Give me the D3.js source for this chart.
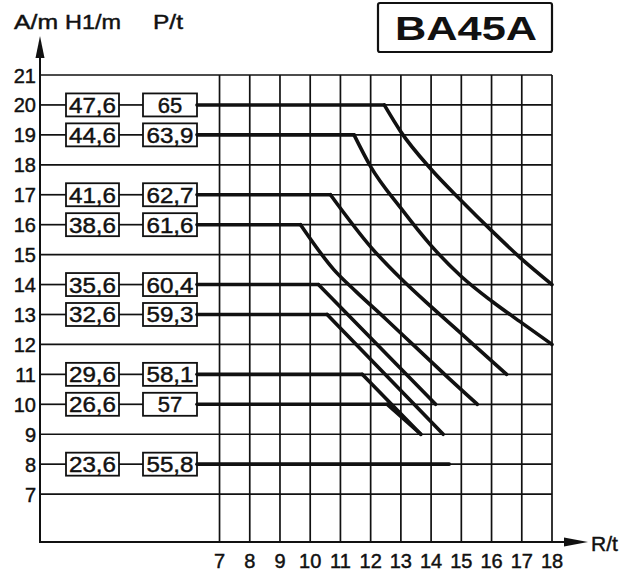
<!DOCTYPE html>
<html><head><meta charset="utf-8">
<script src="https://cdn.jsdelivr.net/npm/d3@7/dist/d3.min.js"></script>
<style>body{margin:0;background:#fff}svg{display:block}</style>
</head><body>
<svg id="c" width="629" height="576"></svg>
<script>
// ---------- data ----------
const yTicks = [7,8,9,10,11,12,13,14,15,16,17,18,19,20,21];
const xTicks = [7,8,9,10,11,12,13,14,15,16,17,18];
const rowLevels = [20,19,17,16,14,13,11,10,8];
const h1Values  = ["47,6","44,6","41,6","38,6","35,6","32,6","29,6","26,6","23,6"];
const pValues   = ["65","63,9","62,7","61,6","60,4","59,3","58,1","57","55,8"];
const bendR     = [12.45,11.45,10.67,9.68,10.27,10.56,11.72,12.55,14.6];
const curve20 = [[12.45,20],[13,19.1],[14,17.85],[15,16.8],[16,15.8],[17,14.85],[18,14]];
const curve19 = [[11.45,19],[12,17.94],[13,16.55],[14,15.3],[15,14.27],[16,13.45],[17,12.72],[18,12]];
const curve17 = [[10.67,17],[12,15.26],[13,14.2],[14,13.26],[15,12.36],[16,11.45],[16.5,11]];
const curve16 = [[9.68,16],[10.78,14.5],[11.5,13.78],[12.5,12.85],[13.5,11.9],[14.5,10.95],[15.53,10]];
const curve14 = [[10.27,14],[14.15,10]];
const curve13 = [[10.56,13],[14.4,9]];
const curve11 = [[11.72,11],[13.66,9]];
const curve10 = [[12.55,10],[13.66,9]];
const curves = [curve20,curve19,curve17,curve16,curve14,curve13,curve11,curve10];
const headerLabels = ["A/m","H1/m","P/t"];
const xAxisLabel = "R/t";
const titleText = "BA45A";

// ---------- layout ----------
const svg = d3.select("#c");
const font = "'Liberation Sans', Arial, Helvetica, sans-serif";
const x = d3.scaleLinear().domain([1.06,18]).range([40,552]);
const y = d3.scaleLinear().domain([5.4,21]).range([542,75]);
const axisX = x(1.06), axisY = y(5.4);
const ink = "#111";
const h1Box = {x0:66, x1:119}, pBox = {x0:143, x1:197};
const boxH = 23;
const txtStroke = 0.45;

const g = svg.append("g");

// horizontal grid lines
yTicks.forEach(v => {
  const isRow = rowLevels.includes(v);
  g.append("line").attr("x1", isRow ? x(7) : axisX).attr("x2", x(18))
    .attr("y1", y(v)).attr("y2", y(v)).attr("stroke", ink).attr("stroke-width", 1.7);
});
// vertical grid lines
xTicks.forEach(v => {
  g.append("line").attr("x1", x(v)).attr("x2", x(v))
    .attr("y1", y(21)).attr("y2", axisY).attr("stroke", ink).attr("stroke-width", 1.7);
});

// axes
g.append("line").attr("x1", axisX).attr("x2", axisX).attr("y1", axisY+1).attr("y2", 50)
  .attr("stroke", ink).attr("stroke-width", 2);
g.append("path").attr("d", `M${axisX},36 L${axisX-4.5},58 L${axisX+4.5},58 Z`).attr("fill", ink);
g.append("line").attr("x1", axisX-1).attr("x2", 575).attr("y1", axisY).attr("y2", axisY)
  .attr("stroke", ink).attr("stroke-width", 2);
g.append("path").attr("d", `M588,${axisY} L564,${axisY-4.5} L564,${axisY+4.5} Z`).attr("fill", ink);

function styleText(sel, size) {
  return sel.attr("font-family", font).attr("font-size", size).attr("fill", ink)
    .attr("stroke", ink).attr("stroke-width", txtStroke);
}

// y tick labels
styleText(g.selectAll(".yt").data(yTicks).enter().append("text")
  .attr("x", 36).attr("y", d => y(d) + 7.5).attr("text-anchor", "end"), 20).text(d => d);
// x tick labels
styleText(g.selectAll(".xt").data(xTicks).enter().append("text")
  .attr("x", d => x(d)).attr("y", 568).attr("text-anchor", "middle"), 20).text(d => d);
styleText(g.append("text").attr("x", 591).attr("y", 551), 21).text(xAxisLabel);

// header
const hdrPos = [[14,44],[65,56],[153,30]];
headerLabels.forEach((t,i) => {
  styleText(g.append("text").attr("x", hdrPos[i][0]).attr("y", 29), 20)
    .attr("textLength", hdrPos[i][1]).attr("lengthAdjust", "spacingAndGlyphs").text(t);
});

// title box
g.append("rect").attr("x", 378).attr("y", 3).attr("width", 174).attr("height", 49)
  .attr("rx", 2).attr("fill", "#fff").attr("stroke", ink).attr("stroke-width", 2.2);
g.append("text").attr("x", 395).attr("y", 40).attr("font-family", font).attr("font-weight", "bold")
  .attr("font-size", 34).attr("fill", ink).attr("textLength", 142)
  .attr("lengthAdjust", "spacingAndGlyphs").text(titleText);

// rows: connectors, boxes, thick lines
rowLevels.forEach((lv, i) => {
  const yy = y(lv);
  g.append("line").attr("x1", axisX).attr("x2", h1Box.x0).attr("y1", yy).attr("y2", yy)
    .attr("stroke", ink).attr("stroke-width", 1.7);
  g.append("line").attr("x1", h1Box.x1).attr("x2", pBox.x0).attr("y1", yy).attr("y2", yy)
    .attr("stroke", ink).attr("stroke-width", 1.7);
  [[h1Box, h1Values[i]], [pBox, pValues[i]]].forEach(([b, t]) => {
    g.append("rect").attr("x", b.x0).attr("y", yy - boxH/2).attr("width", b.x1 - b.x0)
      .attr("height", boxH).attr("fill", "#fff").attr("stroke", ink).attr("stroke-width", 1.8);
    const tx = styleText(g.append("text").attr("x", (b.x0 + b.x1)/2).attr("y", yy + 8)
      .attr("text-anchor", "middle"), 22).text(t);
    if (t.length >= 4) tx.attr("textLength", 47).attr("lengthAdjust", "spacingAndGlyphs");
  });
  // thick horizontal segment
  g.append("line").attr("x1", pBox.x1).attr("x2", x(bendR[i])).attr("y1", yy).attr("y2", yy)
    .attr("stroke", ink).attr("stroke-width", 3.6).attr("stroke-linecap", "round");
});

// descending curves
const line = d3.line().x(d => x(d[0])).y(d => y(d[1])).curve(d3.curveMonotoneX);
curves.forEach(c => {
  g.append("path").attr("d", line(c)).attr("fill", "none").attr("stroke", ink)
    .attr("stroke-width", 3.6).attr("stroke-linecap", "round").attr("stroke-linejoin", "round");
});
</script>
</body></html>
